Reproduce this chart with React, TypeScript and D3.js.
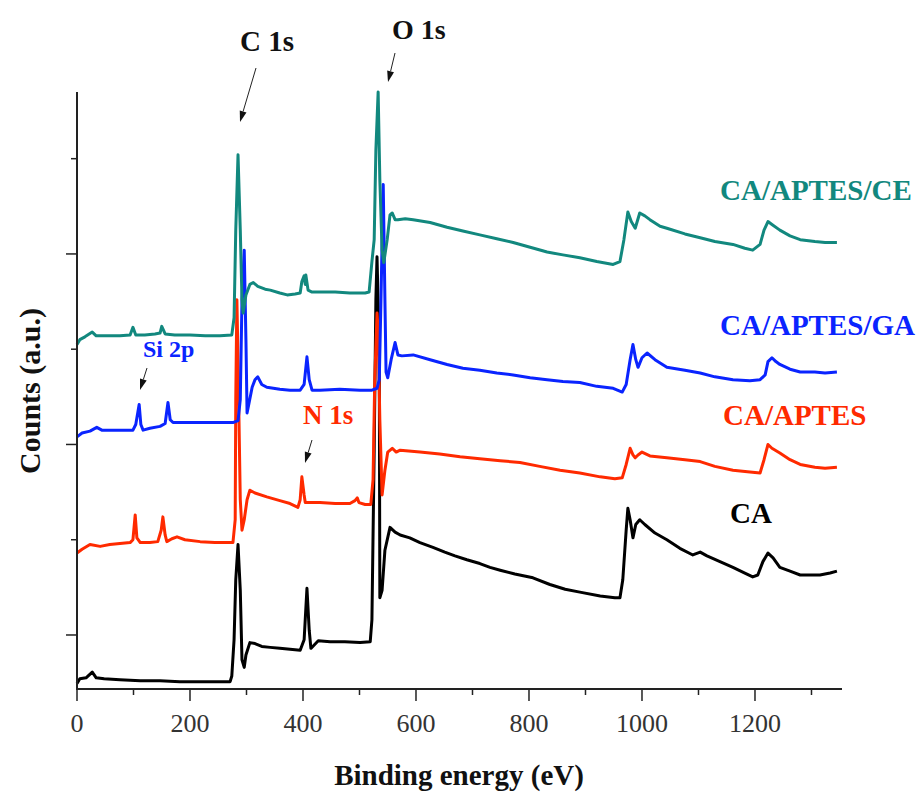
import React from 'react';
import * as d3 from 'd3';

const width = 922;
const height = 792;
const margin = { top: 92, right: 80, bottom: 103, left: 77 };

// [binding energy (eV), counts (a.u.)]
const CA: [number, number][] = [
  [0, -0.51], [5, -0.46], [16, -0.45], [27, -0.39], [34, -0.45], [48, -0.46], [76, -0.47], [112, -0.48],
  [147, -0.48], [182, -0.49], [218, -0.49], [253, -0.49], [271, -0.49], [274, -0.43], [278, -0.05],
  [281, 0.58], [285, 0.95], [289, 0.47], [292, -0.26], [296, -0.34], [299, -0.21], [306, -0.08],
  [315, -0.09], [327, -0.12], [342, -0.13], [359, -0.14], [377, -0.15], [395, -0.16], [402, -0.05],
  [407, 0.49], [411, 0.05], [414, -0.14], [419, -0.11], [427, -0.06], [448, -0.07], [474, -0.07],
  [501, -0.08], [519, -0.07], [522, 0.16], [526, 1.94], [529, 3.52], [531, 3.97], [535, 2.99],
  [536, 0.39], [540, 0.47], [545, 0.89], [554, 1.13], [563, 1.08], [572, 1.05], [589, 1.02],
  [607, 0.97], [630, 0.92], [651, 0.87], [669, 0.83], [690, 0.79], [713, 0.75], [731, 0.71],
  [749, 0.68], [775, 0.64], [807, 0.6], [837, 0.53], [864, 0.48], [890, 0.45], [926, 0.41],
  [952, 0.39], [961, 0.39], [966, 0.58], [972, 1.1], [975, 1.33], [979, 1.21], [984, 1.02],
  [989, 1.16], [996, 1.21], [1005, 1.16], [1023, 1.07], [1044, 1.0], [1067, 0.91], [1090, 0.84],
  [1103, 0.87], [1115, 0.83], [1138, 0.77], [1161, 0.71], [1182, 0.65], [1196, 0.61], [1205, 0.63],
  [1214, 0.77], [1223, 0.86], [1232, 0.81], [1244, 0.71], [1262, 0.67], [1280, 0.63], [1303, 0.63],
  [1315, 0.63], [1324, 0.64], [1333, 0.65], [1345, 0.67],
];

const CA_APTES: [number, number][] = [
  [0, 0.86], [9, 0.9], [23, 0.95], [41, 0.93], [58, 0.95], [76, 0.96], [94, 0.97], [99, 1.0],
  [103, 1.26], [106, 1.02], [112, 0.97], [129, 0.97], [143, 0.98], [149, 1.1], [152, 1.24],
  [156, 1.05], [159, 0.98], [168, 1.01], [177, 1.03], [191, 1.0], [218, 0.98], [244, 0.97],
  [276, 0.97], [280, 1.21], [281, 2.47], [283, 3.52], [285, 2.89], [289, 1.42], [292, 1.1],
  [296, 1.21], [301, 1.42], [306, 1.52], [315, 1.49], [336, 1.45], [359, 1.41], [377, 1.38],
  [391, 1.34], [395, 1.42], [398, 1.66], [402, 1.47], [404, 1.39], [412, 1.39], [430, 1.39],
  [457, 1.38], [483, 1.38], [492, 1.41], [496, 1.44], [499, 1.39], [510, 1.37], [520, 1.37],
  [524, 1.63], [527, 2.68], [531, 3.38], [533, 3.2], [536, 2.26], [540, 1.47], [545, 1.73],
  [550, 1.92], [558, 1.96], [565, 1.92], [572, 1.94], [607, 1.92], [642, 1.9], [678, 1.87],
  [713, 1.85], [749, 1.83], [784, 1.81], [819, 1.77], [855, 1.73], [890, 1.7], [926, 1.66],
  [952, 1.64], [965, 1.65], [972, 1.79], [979, 1.96], [984, 1.89], [988, 1.86], [993, 1.89],
  [1000, 1.92], [1014, 1.88], [1044, 1.86], [1076, 1.84], [1103, 1.82], [1129, 1.77], [1161, 1.73],
  [1191, 1.71], [1209, 1.7], [1216, 1.84], [1223, 2.0], [1230, 1.96], [1244, 1.91], [1262, 1.84],
  [1280, 1.79], [1306, 1.76], [1324, 1.75], [1345, 1.76],
];

const CA_APTES_GA: [number, number][] = [
  [0, 2.08], [9, 2.12], [23, 2.14], [35, 2.18], [44, 2.15], [67, 2.15], [90, 2.15], [99, 2.15],
  [104, 2.21], [110, 2.42], [113, 2.21], [117, 2.15], [129, 2.17], [147, 2.19], [156, 2.22],
  [161, 2.44], [165, 2.26], [170, 2.23], [191, 2.23], [218, 2.23], [244, 2.23], [276, 2.23],
  [285, 2.25], [289, 2.47], [292, 3.52], [296, 4.04], [299, 3.1], [301, 2.33], [304, 2.42],
  [310, 2.6], [315, 2.68], [320, 2.71], [327, 2.63], [336, 2.6], [359, 2.58], [377, 2.57],
  [395, 2.57], [402, 2.63], [407, 2.92], [411, 2.68], [416, 2.57], [430, 2.57], [465, 2.58],
  [501, 2.57], [522, 2.57], [531, 2.59], [535, 2.68], [538, 3.52], [542, 4.73], [545, 3.52],
  [547, 2.76], [550, 2.7], [556, 2.89], [563, 3.07], [568, 2.94], [575, 2.93], [595, 2.94],
  [625, 2.89], [655, 2.84], [683, 2.8], [713, 2.78], [743, 2.75], [772, 2.73], [802, 2.7],
  [832, 2.68], [860, 2.66], [890, 2.65], [920, 2.61], [949, 2.59], [965, 2.55], [972, 2.63],
  [979, 2.89], [984, 3.05], [989, 2.89], [993, 2.81], [1000, 2.91], [1009, 2.96], [1023, 2.89],
  [1044, 2.81], [1076, 2.78], [1103, 2.75], [1129, 2.71], [1161, 2.68], [1191, 2.67], [1209, 2.68],
  [1218, 2.73], [1223, 2.87], [1230, 2.91], [1237, 2.87], [1244, 2.84], [1262, 2.79], [1280, 2.76],
  [1306, 2.76], [1324, 2.75], [1345, 2.76],
];

const CA_APTES_CE: [number, number][] = [
  [0, 3.05], [5, 3.1], [14, 3.13], [27, 3.18], [34, 3.14], [50, 3.14], [76, 3.14], [94, 3.15],
  [99, 3.23], [104, 3.15], [120, 3.15], [138, 3.16], [147, 3.17], [150, 3.24], [156, 3.16],
  [173, 3.15], [200, 3.15], [227, 3.14], [253, 3.14], [274, 3.15], [278, 3.33], [281, 4.25],
  [285, 5.04], [289, 4.25], [292, 3.52], [294, 3.38], [299, 3.57], [306, 3.68], [312, 3.7],
  [320, 3.66], [333, 3.63], [342, 3.62], [359, 3.59], [372, 3.57], [386, 3.58], [395, 3.59],
  [398, 3.71], [402, 3.77], [404, 3.68], [405, 3.78], [409, 3.62], [416, 3.6], [430, 3.6],
  [457, 3.6], [483, 3.59], [510, 3.59], [517, 3.6], [522, 3.92], [526, 4.15], [529, 5.09],
  [533, 5.7], [536, 4.78], [540, 4.04], [543, 3.91], [549, 4.15], [554, 4.41], [558, 4.43],
  [563, 4.36], [568, 4.36], [581, 4.37], [595, 4.36], [625, 4.33], [655, 4.28], [683, 4.24],
  [713, 4.2], [743, 4.16], [772, 4.12], [802, 4.07], [832, 4.02], [860, 3.99], [890, 3.96],
  [920, 3.92], [949, 3.89], [961, 3.92], [968, 4.15], [975, 4.44], [981, 4.34], [988, 4.27],
  [996, 4.43], [1005, 4.4], [1014, 4.36], [1032, 4.29], [1044, 4.27], [1076, 4.21], [1103, 4.17],
  [1129, 4.13], [1161, 4.1], [1182, 4.06], [1196, 4.04], [1209, 4.1], [1216, 4.25], [1223, 4.34],
  [1230, 4.31], [1244, 4.25], [1262, 4.19], [1280, 4.15], [1306, 4.13], [1324, 4.12], [1345, 4.12],
];

const seriesNames = ['CA', 'CA/APTES', 'CA/APTES/GA', 'CA/APTES/CE'];
const seriesColors = ['#000000', '#ff2a00', '#0a24ff', '#12887e'];
const seriesData = [CA, CA_APTES, CA_APTES_GA, CA_APTES_CE];

const xMajorTicks = [0, 200, 400, 600, 800, 1000, 1200];
const xMinorTicks = [100, 300, 500, 700, 900, 1100, 1300];
const yMajorTicks = [0, 2, 4];
const yMinorTicks = [1, 3, 5];

const serif = '"Liberation Serif", "Times New Roman", serif';

function Arrow({ x1, y1, x2, y2 }: { x1: number; y1: number; x2: number; y2: number }) {
  // thin shaft with a filled head at (x2, y2)
  const a = Math.atan2(y2 - y1, x2 - x1);
  const len = 11;
  const half = 3.5;
  const bx = x2 - len * Math.cos(a);
  const by = y2 - len * Math.sin(a);
  const p1 = [bx + half * Math.sin(a), by - half * Math.cos(a)];
  const p2 = [bx - half * Math.sin(a), by + half * Math.cos(a)];
  return (
    <g>
      <line x1={x1} y1={y1} x2={bx} y2={by} stroke="#222" strokeWidth={1} />
      <polygon points={`${x2},${y2} ${p1[0]},${p1[1]} ${p2[0]},${p2[1]}`} fill="#111" />
    </g>
  );
}

export default function App() {
  const x = d3.scaleLinear().domain([0, 1354]).range([margin.left, width - margin.right]);
  const y = d3.scaleLinear().domain([-0.567, 5.7]).range([height - margin.bottom, margin.top]);

  const line = d3
    .line<[number, number]>()
    .x((d) => x(d[0]))
    .y((d) => y(d[1]));

  const x0 = x(0);
  const yBase = y.range()[0];

  return (
    <svg
      width={width}
      height={height}
      style={{ position: 'absolute', left: 0, top: 0, background: '#fff' }}
      fontFamily={serif}
    >
      {/* spectra */}
      {seriesData.map((s, i) => (
        <path
          key={seriesNames[i]}
          d={line(s) || ''}
          fill="none"
          stroke={seriesColors[i]}
          strokeWidth={3}
          strokeLinejoin="round"
        />
      ))}

      {/* axes */}
      <line x1={x0} y1={margin.top} x2={x0} y2={yBase + 1} stroke="#222" strokeWidth={2} />
      <line x1={x0 - 1} y1={yBase} x2={x(1354)} y2={yBase} stroke="#222" strokeWidth={2} />
      {xMajorTicks.map((t) => (
        <g key={'xM' + t}>
          <line x1={x(t)} y1={yBase} x2={x(t)} y2={yBase + 12} stroke="#222" strokeWidth={1.5} />
          <text x={x(t)} y={732} textAnchor="middle" fontSize={26} fill="#333">
            {t}
          </text>
        </g>
      ))}
      {xMinorTicks.map((t) => (
        <line key={'xm' + t} x1={x(t)} y1={yBase} x2={x(t)} y2={yBase + 6} stroke="#222" strokeWidth={1.5} />
      ))}
      {yMajorTicks.map((t) => (
        <line key={'yM' + t} x1={x0} y1={y(t)} x2={x0 - 11} y2={y(t)} stroke="#222" strokeWidth={1.5} />
      ))}
      {yMinorTicks.map((t) => (
        <line key={'ym' + t} x1={x0} y1={y(t)} x2={x0 - 6} y2={y(t)} stroke="#222" strokeWidth={1.5} />
      ))}

      <text x={459} y={785} textAnchor="middle" fontSize={29} fontWeight="bold" fill="#111">
        Binding energy (eV)
      </text>
      <text
        transform="translate(40,391) rotate(-90)"
        textAnchor="middle"
        fontSize={30}
        fontWeight="bold"
        fill="#111"
      >
        Counts (a.u.)
      </text>

      {/* peak annotations */}
      <text x={240} y={51} fontSize={29} fontWeight="bold" fill="#111">C 1s</text>
      <Arrow x1={256} y1={68} x2={240} y2={122} />
      <text x={392} y={39} fontSize={28} fontWeight="bold" fill="#111">O 1s</text>
      <Arrow x1={395} y1={53} x2={388} y2={82} />
      <text x={143} y={357} fontSize={24} fontWeight="bold" fill={seriesColors[2]}>Si 2p</text>
      <Arrow x1={147} y1={368} x2={140} y2={390} />
      <text x={303} y={424} fontSize={27} fontWeight="bold" fill={seriesColors[1]}>N 1s</text>
      <Arrow x1={312} y1={440} x2={305} y2={463} />

      {/* series labels */}
      <text x={720} y={200} fontSize={29} fontWeight="bold" fill={seriesColors[3]}>CA/APTES/CE</text>
      <text x={720} y={335} fontSize={29} fontWeight="bold" fill={seriesColors[2]}>CA/APTES/GA</text>
      <text x={723} y={425} fontSize={29} fontWeight="bold" fill={seriesColors[1]}>CA/APTES</text>
      <text x={730} y={523} fontSize={29} fontWeight="bold" fill={seriesColors[0]}>CA</text>
    </svg>
  );
}
